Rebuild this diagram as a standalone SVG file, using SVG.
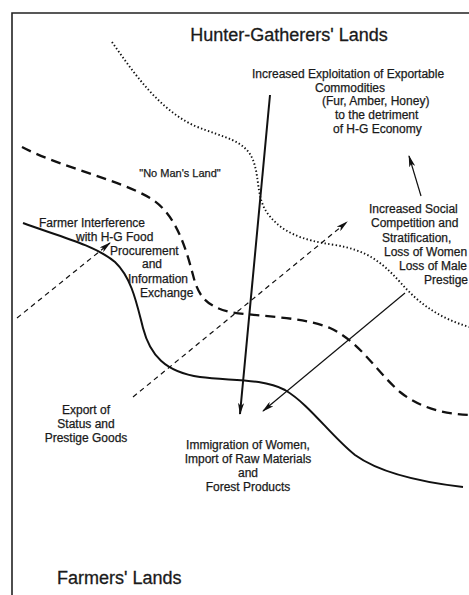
<svg xmlns="http://www.w3.org/2000/svg" width="469" height="595" viewBox="0 0 469 595">
<style>
.t{font-family:"Liberation Sans",Arial,sans-serif;font-size:12px;fill:#1a1a1a;stroke:#1a1a1a;stroke-width:0.25}
.big{font-size:18px;stroke-width:0.3}
.m{text-anchor:middle}
.ln{fill:none;stroke:#111}
.thick{stroke-width:2}
.thin{stroke-width:1.2}
.dot{stroke-width:1.9;stroke-dasharray:1.4 2.3}
.bdash{stroke-width:2.3;stroke-dasharray:10 6}
.sdash{stroke-width:1.2;stroke-dasharray:5 4}
</style>
<defs>
<marker id="ah" viewBox="0 0 12 6" refX="11" refY="3" markerWidth="12" markerHeight="6" markerUnits="userSpaceOnUse" orient="auto">
<path d="M0,0 L12,3 L0,6 L3,3 z" fill="#111"/>
</marker>
</defs>
<rect width="469" height="595" fill="#fff"/>
<g id="frame"><path d="M12,595 L12,13 L469,13" fill="none" stroke="#222" stroke-width="1.6"/></g>
<g id="boundaries">
<path class="ln dot" d="M112,42 C135,75 160,110 195,126 C225,138 245,140 253,160 C260,178 256,198 268,214 C282,232 300,240 335,245 C365,250 380,260 400,282 C420,305 440,318 469,327"/>
<path class="ln bdash" d="M22,147 C60,167 120,180 150,198 C175,213 185,245 193,275 C198,295 205,306 230,312 C260,317 300,316 330,328 C360,342 375,370 400,392 C420,408 445,414 469,415"/>
<path class="ln thick" d="M23,223 C55,235 95,245 115,262 C132,278 137,305 143,328 C150,355 165,372 200,377 C230,381 262,378 285,390 C310,405 330,435 355,455 C380,473 420,482 463,487"/>
</g>
<g id="connectors">
<line class="ln thick" x1="270" y1="95" x2="240" y2="414" marker-end="url(#ah)"/>
<line class="ln thin" x1="421" y1="196" x2="409" y2="156" marker-end="url(#ah)"/>
<line class="ln thin" x1="405" y1="293" x2="263" y2="411" marker-end="url(#ah)"/>
<line class="ln sdash" x1="17" y1="318" x2="110" y2="243" marker-end="url(#ah)"/>
<line class="ln sdash" x1="133" y1="397" x2="347" y2="222" marker-end="url(#ah)"/>
</g>
<g id="hg-lands"><text class="t big m" x="289" y="41">Hunter-Gatherers' Lands</text></g>
<g id="farmers-lands"><text class="t big" x="57" y="584">Farmers' Lands</text></g>
<g id="no-mans-land"><text class="t m" x="180" y="177" style="font-size:11px">"No Man's Land"</text></g>
<g id="exploitation">
<text class="t" x="252" y="78">Increased Exploitation of Exportable</text>
<text class="t" x="315" y="92">Commodities</text>
<text class="t" x="322" y="105">(Fur, Amber, Honey)</text>
<text class="t" x="335" y="119">to the detriment</text>
<text class="t" x="333" y="133">of H-G Economy</text>
</g>
<g id="interference">
<text class="t" x="39" y="227">Farmer Interference</text>
<text class="t" x="76" y="241">with H-G Food</text>
<text class="t" x="110" y="255">Procurement</text>
<text class="t" x="142" y="268">and</text>
<text class="t" x="128" y="283">Information</text>
<text class="t" x="140" y="297">Exchange</text>
</g>
<g id="competition">
<text class="t" x="369" y="213">Increased Social</text>
<text class="t" x="371" y="227">Competition and</text>
<text class="t" x="382" y="242">Stratification,</text>
<text class="t" x="384" y="256">Loss of Women</text>
<text class="t" x="399" y="270">Loss of Male</text>
<text class="t" x="424" y="284">Prestige</text>
</g>
<g id="export">
<text class="t m" x="86" y="414">Export of</text>
<text class="t m" x="86" y="428">Status and</text>
<text class="t m" x="86" y="442">Prestige Goods</text>
</g>
<g id="immigration">
<text class="t m" x="248" y="449">Immigration of Women,</text>
<text class="t m" x="248" y="463">Import of Raw Materials</text>
<text class="t m" x="248" y="477">and</text>
<text class="t m" x="248" y="491">Forest Products</text>
</g>
</svg>
